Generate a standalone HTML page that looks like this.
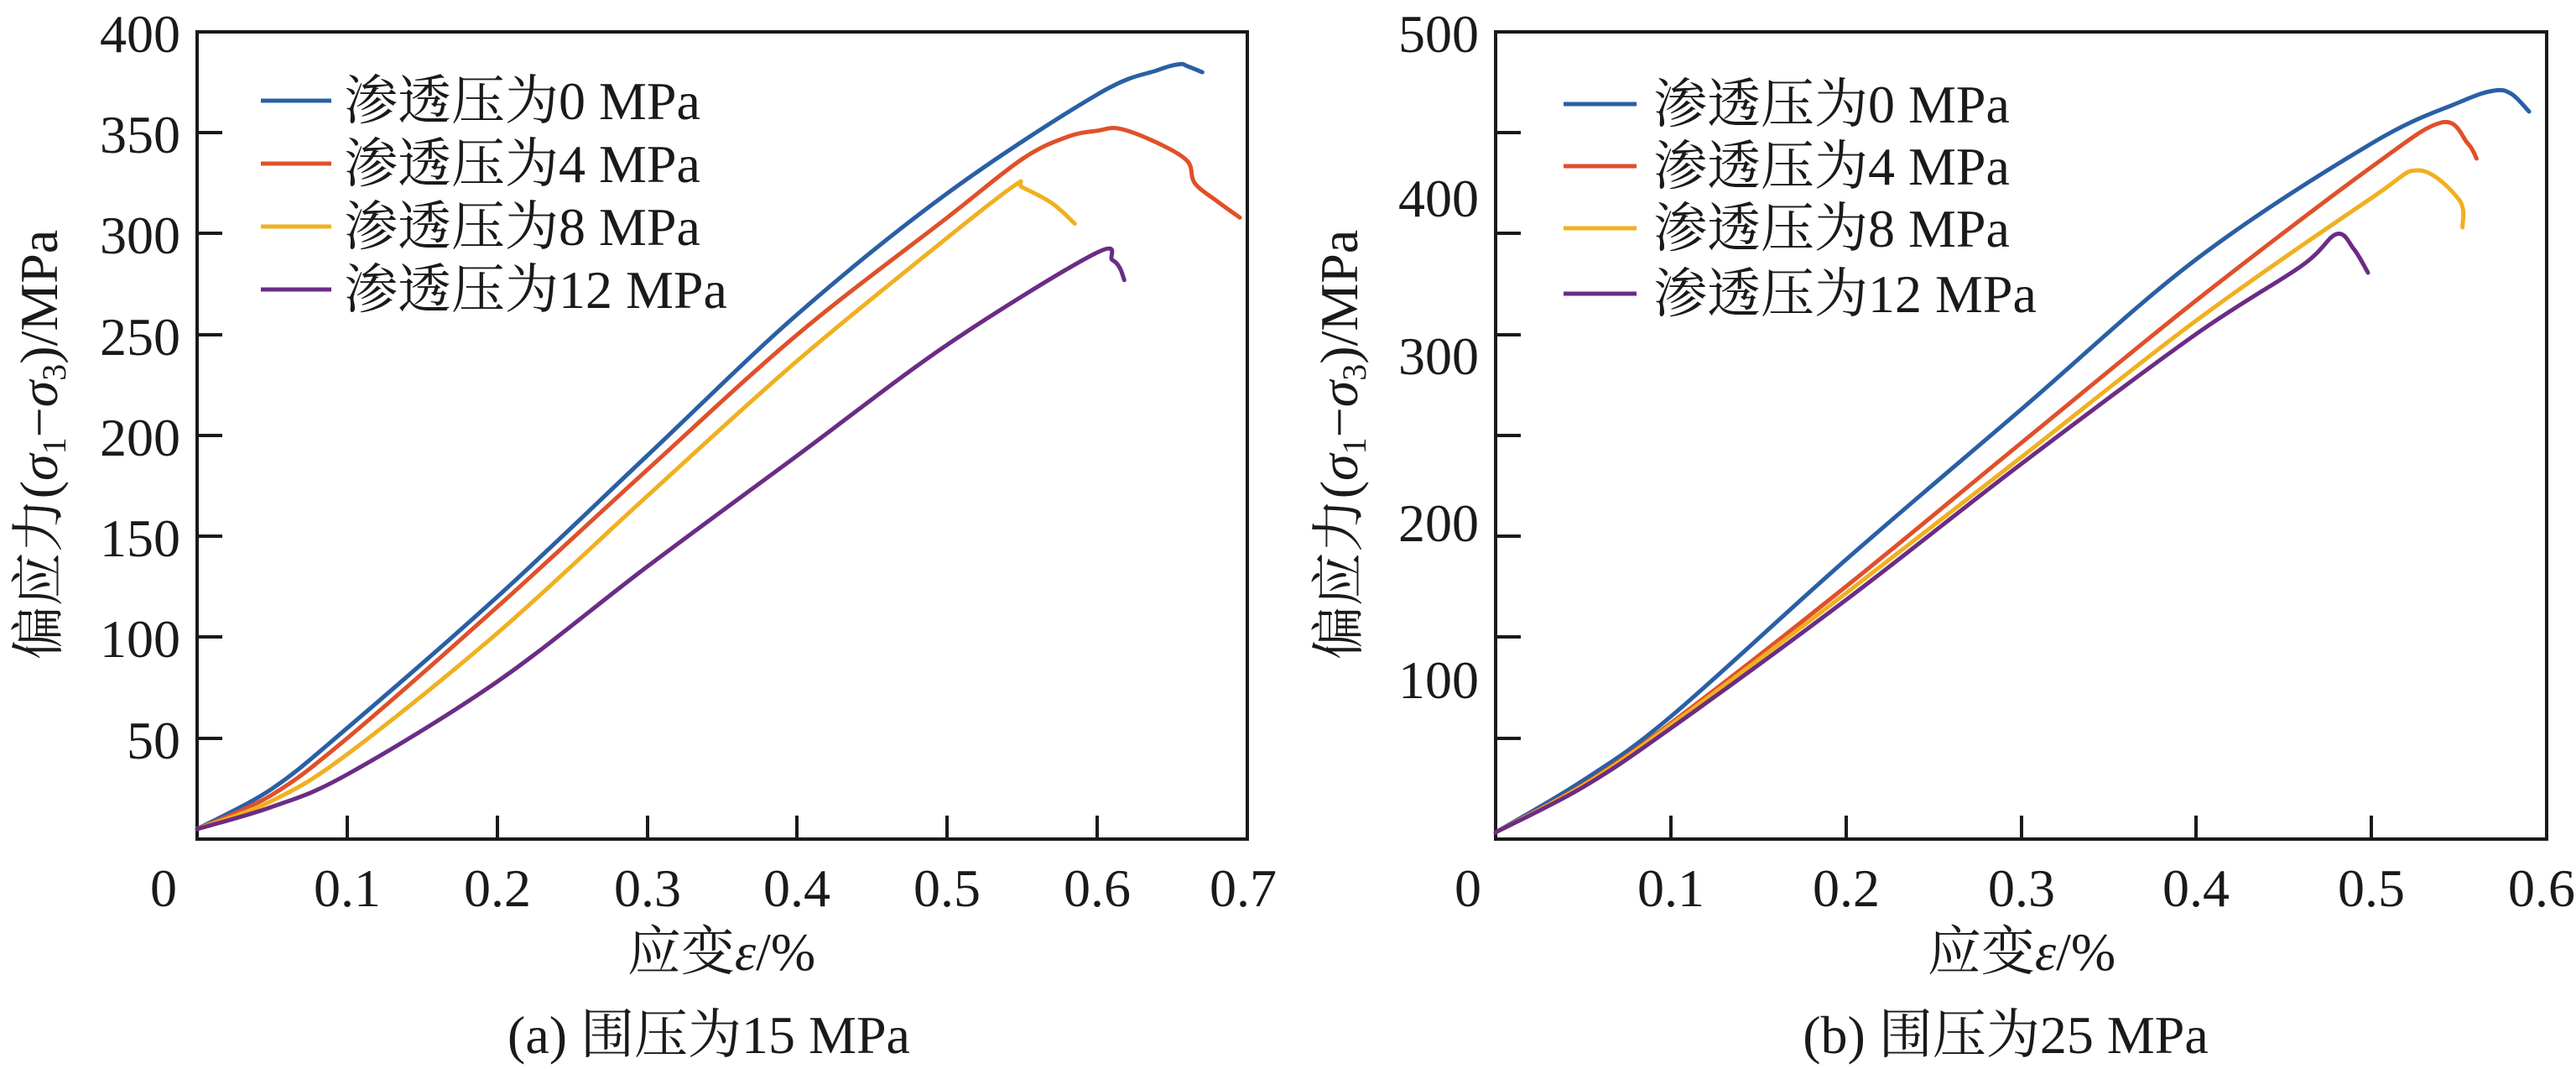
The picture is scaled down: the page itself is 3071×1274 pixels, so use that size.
<!DOCTYPE html>
<html><head><meta charset="utf-8"><style>
html,body{margin:0;padding:0;background:#fff;}
svg text{font-family:"Liberation Serif","Noto Serif CJK SC","Noto Sans CJK SC",serif;fill:#1a1a1a;}
</style></head><body>
<svg id="s" width="3071" height="1269" viewBox="0 0 3071 1269" xmlns="http://www.w3.org/2000/svg">
<g font-size="64">
<!-- Left plot -->
<rect x="235" y="38" width="1252" height="962" fill="none" stroke="#1a1a1a" stroke-width="4"/>
<g stroke="#1a1a1a" stroke-width="4">
<line x1="414" y1="1000" x2="414" y2="972"/><line x1="593" y1="1000" x2="593" y2="972"/>
<line x1="772" y1="1000" x2="772" y2="972"/><line x1="950" y1="1000" x2="950" y2="972"/>
<line x1="1129" y1="1000" x2="1129" y2="972"/><line x1="1308" y1="1000" x2="1308" y2="972"/>
<line x1="235" y1="880" x2="265" y2="880"/><line x1="235" y1="759" x2="265" y2="759"/>
<line x1="235" y1="639" x2="265" y2="639"/><line x1="235" y1="519" x2="265" y2="519"/>
<line x1="235" y1="399" x2="265" y2="399"/><line x1="235" y1="278" x2="265" y2="278"/>
<line x1="235" y1="158" x2="265" y2="158"/>
</g>
<g text-anchor="end">
<text x="215" y="62">400</text><text x="215" y="182">350</text><text x="215" y="302">300</text>
<text x="215" y="423">250</text><text x="215" y="543">200</text><text x="215" y="663">150</text>
<text x="215" y="783">100</text><text x="215" y="904">50</text>
</g>
<g text-anchor="middle">
<text x="195" y="1080">0</text><text x="414" y="1080">0.1</text><text x="593" y="1080">0.2</text>
<text x="772" y="1080">0.3</text><text x="950" y="1080">0.4</text><text x="1129" y="1080">0.5</text>
<text x="1308" y="1080">0.6</text><text x="1482" y="1080">0.7</text>
<text x="860" y="1156">应变<tspan font-style="italic">ε</tspan>/%</text>
<text x="845" y="1255">(a) 围压为15 MPa</text>
</g>
<text transform="translate(68,530) rotate(-90)" text-anchor="middle">偏应力(<tspan font-style="italic">σ</tspan><tspan font-size="40" dy="10">1</tspan><tspan dy="-10">−</tspan><tspan font-style="italic">σ</tspan><tspan font-size="40" dy="10">3</tspan><tspan dy="-10">)/MPa</tspan></text>
<g stroke-width="5">
<line x1="311" y1="120" x2="395" y2="120" stroke="#2a5fa5"/>
<line x1="311" y1="195" x2="395" y2="195" stroke="#e0502a"/>
<line x1="311" y1="270" x2="395" y2="270" stroke="#f0b020"/>
<line x1="311" y1="345" x2="395" y2="345" stroke="#6b2c85"/>
</g>
<text x="410" y="142">渗透压为0 MPa</text>
<text x="410" y="217">渗透压为4 MPa</text>
<text x="410" y="292">渗透压为8 MPa</text>
<text x="410" y="367">渗透压为12 MPa</text>

<!-- Right plot -->
<rect x="1783" y="38" width="1253" height="962" fill="none" stroke="#1a1a1a" stroke-width="4"/>
<g stroke="#1a1a1a" stroke-width="4">
<line x1="1992" y1="1000" x2="1992" y2="972"/><line x1="2201" y1="1000" x2="2201" y2="972"/>
<line x1="2410" y1="1000" x2="2410" y2="972"/><line x1="2618" y1="1000" x2="2618" y2="972"/>
<line x1="2827" y1="1000" x2="2827" y2="972"/>
<line x1="1783" y1="880" x2="1813" y2="880"/><line x1="1783" y1="759" x2="1813" y2="759"/>
<line x1="1783" y1="639" x2="1813" y2="639"/><line x1="1783" y1="519" x2="1813" y2="519"/>
<line x1="1783" y1="399" x2="1813" y2="399"/><line x1="1783" y1="278" x2="1813" y2="278"/>
<line x1="1783" y1="158" x2="1813" y2="158"/>
</g>
<g text-anchor="end">
<text x="1763" y="62">500</text><text x="1763" y="258">400</text><text x="1763" y="446">300</text>
<text x="1763" y="645">200</text><text x="1763" y="832">100</text>
</g>
<g text-anchor="middle">
<text x="1750" y="1080">0</text><text x="1992" y="1080">0.1</text><text x="2201" y="1080">0.2</text>
<text x="2410" y="1080">0.3</text><text x="2618" y="1080">0.4</text><text x="2827" y="1080">0.5</text>
<text x="3030" y="1080">0.6</text>
<text x="2410" y="1156">应变<tspan font-style="italic">ε</tspan>/%</text>
<text x="2391" y="1255">(b) 围压为25 MPa</text>
</g>
<text transform="translate(1618,530) rotate(-90)" text-anchor="middle">偏应力(<tspan font-style="italic">σ</tspan><tspan font-size="40" dy="10">1</tspan><tspan dy="-10">−</tspan><tspan font-style="italic">σ</tspan><tspan font-size="40" dy="10">3</tspan><tspan dy="-10">)/MPa</tspan></text>
<g stroke-width="5">
<line x1="1864" y1="124" x2="1951" y2="124" stroke="#2a5fa5"/>
<line x1="1864" y1="198" x2="1951" y2="198" stroke="#e0502a"/>
<line x1="1864" y1="272" x2="1951" y2="272" stroke="#f0b020"/>
<line x1="1864" y1="350" x2="1951" y2="350" stroke="#6b2c85"/>
</g>
<text x="1971" y="146">渗透压为0 MPa</text>
<text x="1971" y="220">渗透压为4 MPa</text>
<text x="1971" y="294">渗透压为8 MPa</text>
<text x="1971" y="372">渗透压为12 MPa</text>
</g>
<g id="curves" fill="none" stroke-width="5" stroke-linejoin="round" stroke-linecap="round"></g>
</svg>
<script>
function cr(p){var d="M"+p[0][0].toFixed(1)+","+p[0][1].toFixed(1);
for(var i=0;i<p.length-1;i++){var p0=p[i>0?i-1:i],p1=p[i],p2=p[i+1],p3=p[i+2<p.length?i+2:i+1];
var c1=[p1[0]+(p2[0]-p0[0])/6,p1[1]+(p2[1]-p0[1])/6],c2=[p2[0]-(p3[0]-p1[0])/6,p2[1]-(p3[1]-p1[1])/6];
d+=" C"+c1[0].toFixed(1)+","+c1[1].toFixed(1)+" "+c2[0].toFixed(1)+","+c2[1].toFixed(1)+" "+p2[0].toFixed(1)+","+p2[1].toFixed(1);}
return d;}
var g=document.getElementById("curves");
function add(pts,col){var p=document.createElementNS("http://www.w3.org/2000/svg","path");p.setAttribute("d",cr(pts));p.setAttribute("stroke",col);g.appendChild(p);}
function L(a){return a.map(function(q){return [235+q[0]/0.7*1252,1000-q[1]/400*962];});}
function R(a){return a.map(function(q){return [1783+q[0]/0.6*1253,q[1]];});}
add(L([[0,5],[0.05,25],[0.1,55],[0.2,120],[0.3,190],[0.4,260],[0.5,320],[0.6,369],[0.64,381],[0.655,384],[0.66,383],[0.67,380]]),"#2a5fa5");
add(L([[0,5],[0.05,22],[0.1,50],[0.2,115],[0.3,183],[0.4,250],[0.5,308],[0.55,337],[0.58,348],[0.6,351],[0.615,352],[0.64,345],[0.66,336],[0.665,325],[0.68,316],[0.695,308]]),"#e0502a");
add(L([[0,5],[0.05,19],[0.1,42],[0.2,102],[0.3,170],[0.4,237],[0.5,298],[0.545,324],[0.55,323],[0.57,315],[0.585,305]]),"#f0b020");
add(L([[0,5],[0.05,16],[0.1,32],[0.2,78],[0.3,135],[0.4,190],[0.5,245],[0.598,290],[0.61,287],[0.615,283],[0.618,277]]),"#6b2c85");
add(R([[0,992],[0.05,930],[0.1,854],[0.2,667],[0.3,488],[0.4,309],[0.5,171],[0.55,122],[0.57,108],[0.58,112],[0.59,133]]),"#2a5fa5");
add(R([[0,992],[0.05,935],[0.1,862],[0.2,699],[0.3,528],[0.4,358],[0.5,199],[0.54,146],[0.555,171],[0.56,189]]),"#e0502a");
add(R([[0,992],[0.05,936],[0.1,864],[0.2,707],[0.3,545],[0.4,382],[0.5,236],[0.527,203],[0.55,238],[0.552,271]]),"#f0b020");
add(R([[0,992],[0.05,938],[0.1,868],[0.2,715],[0.3,553],[0.4,398],[0.46,317],[0.48,279],[0.49,297],[0.498,325]]),"#6b2c85");
</script>
</body></html>
